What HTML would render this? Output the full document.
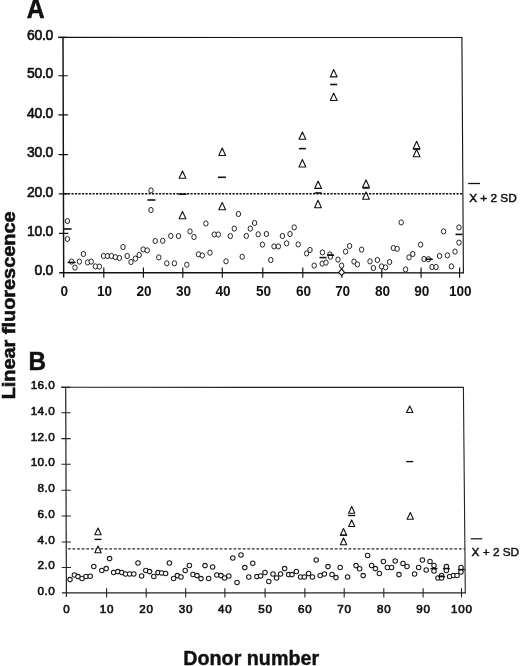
<!DOCTYPE html>
<html><head><meta charset="utf-8"><title>Figure</title>
<style>
html,body{margin:0;padding:0;background:#fff;}
body{width:520px;height:666px;overflow:hidden;}
svg{display:block;}
text{font-family:"Liberation Sans",Arial,Helvetica,sans-serif;fill:#111;}
.ya text{font-size:15px;text-anchor:end;stroke:#111;stroke-width:0.65px;letter-spacing:-0.3px;}
.xa text{font-size:14.8px;text-anchor:middle;font-weight:bold;letter-spacing:-0.2px;}
.yb text{font-size:11.8px;text-anchor:end;letter-spacing:0.4px;stroke:#111;stroke-width:0.6px;}
.xb text{font-size:11.6px;text-anchor:middle;letter-spacing:0.8px;stroke:#111;stroke-width:0.65px;}
.ax{stroke:#111;stroke-width:1.4;fill:none;}
.thin{stroke:#222;stroke-width:1.1;fill:none;}
.c{fill:#fff;stroke:#1a1a1a;stroke-width:0.95;}
.t{fill:#fff;stroke:#111;stroke-width:1.1;stroke-linejoin:round;}
.d{stroke:#111;stroke-width:1.6;}
.dot{stroke:#111;stroke-width:1.4;stroke-dasharray:2.2 1.3;fill:none;}
.big{font-weight:bold;}
</style></head><body>
<svg width="520" height="666" viewBox="0 0 520 666">
<rect width="520" height="666" fill="#fff"/>

<text class="big" transform="translate(26.7 17.9) scale(1 1.09)" font-size="24.8" style="stroke:#111;stroke-width:.5px">A</text>
<text class="big" transform="translate(28.5 369.5) scale(1 1.05)" font-size="24.3" style="stroke:#111;stroke-width:.5px">B</text>
<text class="big" font-size="19" text-anchor="middle" transform="translate(15.3 305.4) rotate(-90) scale(1.047 1)" style="stroke:#111;stroke-width:.6px">Linear fluorescence</text>
<text class="big" font-size="19.3" text-anchor="middle" transform="translate(251.2 664.5) scale(1.022 1)" style="stroke:#111;stroke-width:.4px">Donor number</text>
<g class="ax"><path d="M58.4 37.4L461.9 37.5L463.4 272.9" style="stroke-width:1.1"/><path d="M58.4 37.4H67.3" style="stroke-width:1.4"/><path d="M464 272.85L59.2 272.8M63.0 37.4L63.7 277.6" style="stroke-width:1.45"/>
<path d="M58.9 233.3h9.4M58.8 193.8h9.4M58.6 154.6h9.4M58.5 114.9h9.4M58.4 75.7h9.4M103.8 267.5v10.2M143.4 267.5v10.2M182.8 267.5v10.2M222.3 267.5v10.2M262.8 267.5v10.2M302.8 267.5v10.2M342.0 267.5v10.2M381.8 267.5v10.2M421.1 267.5v10.2M459.6 267.5v10.2" style="stroke-width:1.15"/></g>
<g class="ya">
<text transform="translate(53.0 275.3) scale(0.93 1)">0.0</text>
<text transform="translate(53.0 236.0) scale(0.93 1)">10.0</text>
<text transform="translate(53.0 196.5) scale(0.93 1)">20.0</text>
<text transform="translate(53.0 157.3) scale(0.93 1)">30.0</text>
<text transform="translate(53.0 117.6) scale(0.93 1)">40.0</text>
<text transform="translate(53.0 78.4) scale(0.93 1)">50.0</text>
<text transform="translate(53.0 40.0) scale(0.93 1)">60.0</text>
</g><g class="xa">
<text transform="translate(64.3 296.3) scale(0.92 1)">0</text>
<text transform="translate(104.4 296.3) scale(0.92 1)">10</text>
<text transform="translate(144.0 296.3) scale(0.92 1)">20</text>
<text transform="translate(183.4 296.3) scale(0.92 1)">30</text>
<text transform="translate(222.9 296.3) scale(0.92 1)">40</text>
<text transform="translate(263.4 296.3) scale(0.92 1)">50</text>
<text transform="translate(303.4 296.3) scale(0.92 1)">60</text>
<text transform="translate(342.6 296.3) scale(0.92 1)">70</text>
<text transform="translate(382.4 296.3) scale(0.92 1)">80</text>
<text transform="translate(421.7 296.3) scale(0.92 1)">90</text>
<text transform="translate(460.2 296.3) scale(0.92 1)">100</text>
</g>
<path class="dot" d="M64.5 193.8H462.8"/>
<g class="thin"><path d="M61.3 387.3L463.4 387.4L465.3 593"/><path d="M61.3 387.3H70.2" style="stroke-width:1.3"/><path d="M65.7 387.3L66.4 597" style="stroke-width:1.2"/><path d="M466 592.85L61.9 592.9" style="stroke-width:1.35"/>
<path d="M61.8 567.5h9.2M61.7 542.0h9.2M61.6 516.0h9.2M61.5 490.3h9.2M61.5 464.3h9.2M61.4 438.6h9.2M61.3 412.8h9.2M106.6 588.2v9.2M146.2 588.2v9.2M185.7 588.2v9.2M224.9 588.2v9.2M265.1 588.2v9.2M304.9 588.2v9.2M344.2 588.2v9.2M383.8 588.2v9.2M423.1 588.2v9.2M461.5 588.2v9.2"/></g>
<g class="yb">
<text x="55.2" y="594.8">0.0</text>
<text x="55.2" y="569.4">2.0</text>
<text x="55.2" y="543.9">4.0</text>
<text x="55.2" y="517.9">6.0</text>
<text x="55.2" y="492.2">8.0</text>
<text x="55.2" y="466.2">10.0</text>
<text x="55.2" y="440.5">12.0</text>
<text x="55.2" y="414.7">14.0</text>
<text x="55.2" y="388.8">16.0</text>
</g><g class="xb">
<text x="66.8" y="613.2">0</text>
<text x="107.0" y="613.2">10</text>
<text x="146.6" y="613.2">20</text>
<text x="186.1" y="613.2">30</text>
<text x="225.3" y="613.2">40</text>
<text x="265.5" y="613.2">50</text>
<text x="305.3" y="613.2">60</text>
<text x="344.6" y="613.2">70</text>
<text x="384.2" y="613.2">80</text>
<text x="423.5" y="613.2">90</text>
<text x="461.9" y="613.2">100</text>
</g>
<path class="dot" d="M67.9 548.9H465" style="stroke-width:1.3;stroke:#2a2a2a;stroke-dasharray:2.8 1.8"/>
<path class="d" d="M468.2 183.5H480" style="stroke-width:1.3"/>
<text x="469.2" y="201.9" font-size="11.8" style="stroke:#111;stroke-width:0.5px">X + 2 SD</text>
<path class="d" d="M470.8 538.8H482.3" style="stroke-width:1.2"/>
<text x="471.6" y="556.3" font-size="11.8" style="stroke:#111;stroke-width:0.45px">X + 2 SD</text>
<g>
<ellipse class="c" cx="67.4" cy="221.0" rx="2.2" ry="2.6"/>
<ellipse class="c" cx="67.4" cy="239.0" rx="2.2" ry="2.6"/>
<ellipse class="c" cx="71.6" cy="261.6" rx="2.2" ry="2.6"/>
<ellipse class="c" cx="75.0" cy="267.6" rx="2.2" ry="2.6"/>
<ellipse class="c" cx="79.4" cy="261.6" rx="2.2" ry="2.6"/>
<ellipse class="c" cx="83.4" cy="254.0" rx="2.2" ry="2.6"/>
<ellipse class="c" cx="87.6" cy="262.4" rx="2.2" ry="2.6"/>
<ellipse class="c" cx="91.2" cy="261.6" rx="2.2" ry="2.6"/>
<ellipse class="c" cx="95.4" cy="266.4" rx="2.2" ry="2.6"/>
<ellipse class="c" cx="99.4" cy="266.6" rx="2.2" ry="2.6"/>
<ellipse class="c" cx="103.6" cy="256.0" rx="2.2" ry="2.6"/>
<ellipse class="c" cx="107.4" cy="256.0" rx="2.2" ry="2.6"/>
<ellipse class="c" cx="111.4" cy="256.0" rx="2.2" ry="2.6"/>
<ellipse class="c" cx="115.4" cy="257.2" rx="2.2" ry="2.6"/>
<ellipse class="c" cx="119.4" cy="258.0" rx="2.2" ry="2.6"/>
<ellipse class="c" cx="123.0" cy="247.0" rx="2.2" ry="2.6"/>
<ellipse class="c" cx="127.2" cy="256.0" rx="2.2" ry="2.6"/>
<ellipse class="c" cx="131.0" cy="262.0" rx="2.2" ry="2.6"/>
<ellipse class="c" cx="135.4" cy="258.6" rx="2.2" ry="2.6"/>
<ellipse class="c" cx="139.2" cy="255.0" rx="2.2" ry="2.6"/>
<ellipse class="c" cx="143.2" cy="249.4" rx="2.2" ry="2.6"/>
<ellipse class="c" cx="147.2" cy="250.4" rx="2.2" ry="2.6"/>
<ellipse class="c" cx="151.0" cy="190.4" rx="2.2" ry="2.6"/>
<ellipse class="c" cx="151.0" cy="210.0" rx="2.2" ry="2.6"/>
<ellipse class="c" cx="155.2" cy="241.0" rx="2.2" ry="2.6"/>
<ellipse class="c" cx="158.8" cy="257.4" rx="2.2" ry="2.6"/>
<ellipse class="c" cx="162.7" cy="240.8" rx="2.2" ry="2.6"/>
<ellipse class="c" cx="166.8" cy="263.3" rx="2.2" ry="2.6"/>
<ellipse class="c" cx="170.8" cy="235.9" rx="2.2" ry="2.6"/>
<ellipse class="c" cx="174.4" cy="263.3" rx="2.2" ry="2.6"/>
<ellipse class="c" cx="178.5" cy="236.1" rx="2.2" ry="2.6"/>
<ellipse class="c" cx="186.8" cy="264.7" rx="2.2" ry="2.6"/>
<ellipse class="c" cx="190.0" cy="231.4" rx="2.2" ry="2.6"/>
<ellipse class="c" cx="194.0" cy="237.0" rx="2.2" ry="2.6"/>
<ellipse class="c" cx="198.5" cy="254.3" rx="2.2" ry="2.6"/>
<ellipse class="c" cx="202.3" cy="255.5" rx="2.2" ry="2.6"/>
<ellipse class="c" cx="205.9" cy="223.5" rx="2.2" ry="2.6"/>
<ellipse class="c" cx="210.0" cy="252.7" rx="2.2" ry="2.6"/>
<ellipse class="c" cx="214.3" cy="234.5" rx="2.2" ry="2.6"/>
<ellipse class="c" cx="218.3" cy="234.5" rx="2.2" ry="2.6"/>
<ellipse class="c" cx="226.0" cy="261.3" rx="2.2" ry="2.6"/>
<ellipse class="c" cx="230.3" cy="236.1" rx="2.2" ry="2.6"/>
<ellipse class="c" cx="234.3" cy="228.6" rx="2.2" ry="2.6"/>
<ellipse class="c" cx="238.4" cy="214.0" rx="2.2" ry="2.6"/>
<ellipse class="c" cx="242.2" cy="256.8" rx="2.2" ry="2.6"/>
<ellipse class="c" cx="246.3" cy="235.9" rx="2.2" ry="2.6"/>
<ellipse class="c" cx="250.3" cy="228.6" rx="2.2" ry="2.6"/>
<ellipse class="c" cx="254.6" cy="223.0" rx="2.2" ry="2.6"/>
<ellipse class="c" cx="258.2" cy="234.3" rx="2.2" ry="2.6"/>
<ellipse class="c" cx="262.4" cy="244.6" rx="2.2" ry="2.6"/>
<ellipse class="c" cx="266.4" cy="234.0" rx="2.2" ry="2.6"/>
<ellipse class="c" cx="270.8" cy="260.0" rx="2.2" ry="2.6"/>
<ellipse class="c" cx="274.0" cy="246.4" rx="2.2" ry="2.6"/>
<ellipse class="c" cx="278.4" cy="246.4" rx="2.2" ry="2.6"/>
<ellipse class="c" cx="282.4" cy="236.0" rx="2.2" ry="2.6"/>
<ellipse class="c" cx="286.6" cy="243.4" rx="2.2" ry="2.6"/>
<ellipse class="c" cx="290.0" cy="234.0" rx="2.2" ry="2.6"/>
<ellipse class="c" cx="294.2" cy="227.4" rx="2.2" ry="2.6"/>
<ellipse class="c" cx="298.2" cy="244.4" rx="2.2" ry="2.6"/>
<ellipse class="c" cx="306.6" cy="253.4" rx="2.2" ry="2.6"/>
<ellipse class="c" cx="310.0" cy="250.0" rx="2.2" ry="2.6"/>
<ellipse class="c" cx="314.2" cy="265.6" rx="2.2" ry="2.6"/>
<ellipse class="c" cx="322.4" cy="252.4" rx="2.2" ry="2.6"/>
<ellipse class="c" cx="322.2" cy="263.6" rx="2.2" ry="2.6"/>
<ellipse class="c" cx="326.0" cy="262.6" rx="2.2" ry="2.6"/>
<ellipse class="c" cx="330.0" cy="254.4" rx="2.2" ry="2.6"/>
<ellipse class="c" cx="330.4" cy="256.8" rx="2.2" ry="2.6"/>
<ellipse class="c" cx="338.0" cy="259.6" rx="2.2" ry="2.6"/>
<ellipse class="c" cx="341.6" cy="265.6" rx="2.2" ry="2.6"/>
<ellipse class="c" cx="345.6" cy="251.6" rx="2.2" ry="2.6"/>
<ellipse class="c" cx="349.6" cy="246.0" rx="2.2" ry="2.6"/>
<ellipse class="c" cx="354.0" cy="261.6" rx="2.2" ry="2.6"/>
<ellipse class="c" cx="357.4" cy="264.4" rx="2.2" ry="2.6"/>
<ellipse class="c" cx="361.6" cy="249.6" rx="2.2" ry="2.6"/>
<ellipse class="c" cx="370.0" cy="261.4" rx="2.2" ry="2.6"/>
<ellipse class="c" cx="373.4" cy="268.0" rx="2.2" ry="2.6"/>
<ellipse class="c" cx="377.4" cy="260.0" rx="2.2" ry="2.6"/>
<ellipse class="c" cx="381.6" cy="266.4" rx="2.2" ry="2.6"/>
<ellipse class="c" cx="385.6" cy="267.4" rx="2.2" ry="2.6"/>
<ellipse class="c" cx="389.6" cy="262.0" rx="2.2" ry="2.6"/>
<ellipse class="c" cx="393.4" cy="248.0" rx="2.2" ry="2.6"/>
<ellipse class="c" cx="397.2" cy="248.8" rx="2.2" ry="2.6"/>
<ellipse class="c" cx="401.2" cy="222.4" rx="2.2" ry="2.6"/>
<ellipse class="c" cx="405.6" cy="269.4" rx="2.2" ry="2.6"/>
<ellipse class="c" cx="409.0" cy="257.4" rx="2.2" ry="2.6"/>
<ellipse class="c" cx="412.8" cy="254.0" rx="2.2" ry="2.6"/>
<ellipse class="c" cx="420.6" cy="244.6" rx="2.2" ry="2.6"/>
<ellipse class="c" cx="424.0" cy="259.0" rx="2.2" ry="2.6"/>
<ellipse class="c" cx="428.4" cy="259.2" rx="2.2" ry="2.6"/>
<ellipse class="c" cx="432.0" cy="267.0" rx="2.2" ry="2.6"/>
<ellipse class="c" cx="436.0" cy="267.0" rx="2.2" ry="2.6"/>
<ellipse class="c" cx="439.6" cy="256.0" rx="2.2" ry="2.6"/>
<ellipse class="c" cx="443.6" cy="231.4" rx="2.2" ry="2.6"/>
<ellipse class="c" cx="447.4" cy="255.4" rx="2.2" ry="2.6"/>
<ellipse class="c" cx="451.4" cy="266.4" rx="2.2" ry="2.6"/>
<ellipse class="c" cx="455.0" cy="251.6" rx="2.2" ry="2.6"/>
<ellipse class="c" cx="459.0" cy="227.4" rx="2.2" ry="2.6"/>
<ellipse class="c" cx="459.0" cy="242.6" rx="2.2" ry="2.6"/>
<path class="t" d="M182.5 170.9L185.9 178.3H179.1Z"/>
<path class="t" d="M182.5 211.4L185.9 218.8H179.1Z"/>
<path class="t" d="M222.2 148.1L225.6 155.5H218.8Z"/>
<path class="t" d="M222.2 202.4L225.6 209.8H218.8Z"/>
<path class="t" d="M302.4 131.9L305.8 139.3H299.0Z"/>
<path class="t" d="M302.4 159.6L305.8 167.0H299.0Z"/>
<path class="t" d="M333.7 69.5L337.1 76.9H330.3Z"/>
<path class="t" d="M333.7 93.1L337.1 100.5H330.3Z"/>
<path class="t" d="M318.1 181.0L321.5 188.4H314.7Z"/>
<path class="t" d="M318.0 200.3L321.4 207.7H314.6Z"/>
<path class="t" d="M366.0 179.9L369.4 187.3H362.6Z"/>
<path class="t" d="M366.0 191.9L369.4 199.3H362.6Z"/>
<path class="t" d="M416.6 141.3L420.0 148.7H413.2Z"/>
<path class="t" d="M416.6 149.3L420.0 156.7H413.2Z"/>
<path class="t" d="M341.6 268.8l2.9 3.6l-2.9 3.3l-2.9 -3.3Z"/>
<path class="d" d="M63.6 229.0h8"/>
<path class="d" d="M67.6 262.4h8"/>
<path class="d" d="M147.4 200.0h8"/>
<path class="d" d="M178.5 194.2h8"/>
<path class="d" d="M217.9 177.3h8"/>
<path class="d" d="M319.5 257.6h7.0"/>
<path class="d" d="M327.1 255.2h7.0"/>
<path class="d" d="M298.9 148.6h7.0"/>
<path class="d" d="M330.2 84.5h7.0"/>
<path class="d" d="M314.6 193.0h7.0"/>
<path class="d" d="M425.7 259.2h7.0"/>
<path class="d" d="M455.5 234.4h7.0"/>
<path class="d" d="M362.5 188.0h7.0"/>
<path class="d" d="M413.1 149.0h7.0"/>
</g><g>
<circle class="c" cx="70.0" cy="579.6" r="2.25" style="stroke-width:1.05"/>
<circle class="c" cx="74.4" cy="575.0" r="2.25" style="stroke-width:1.05"/>
<circle class="c" cx="78.0" cy="576.6" r="2.25" style="stroke-width:1.05"/>
<circle class="c" cx="82.0" cy="578.4" r="2.25" style="stroke-width:1.05"/>
<circle class="c" cx="86.0" cy="576.4" r="2.25" style="stroke-width:1.05"/>
<circle class="c" cx="90.2" cy="576.2" r="2.25" style="stroke-width:1.05"/>
<circle class="c" cx="93.8" cy="566.4" r="2.25" style="stroke-width:1.05"/>
<circle class="c" cx="101.8" cy="570.4" r="2.25" style="stroke-width:1.05"/>
<circle class="c" cx="106.2" cy="568.6" r="2.25" style="stroke-width:1.05"/>
<circle class="c" cx="109.6" cy="558.6" r="2.25" style="stroke-width:1.05"/>
<circle class="c" cx="113.6" cy="572.4" r="2.25" style="stroke-width:1.05"/>
<circle class="c" cx="117.8" cy="571.6" r="2.25" style="stroke-width:1.05"/>
<circle class="c" cx="121.8" cy="572.4" r="2.25" style="stroke-width:1.05"/>
<circle class="c" cx="125.6" cy="574.0" r="2.25" style="stroke-width:1.05"/>
<circle class="c" cx="129.6" cy="574.0" r="2.25" style="stroke-width:1.05"/>
<circle class="c" cx="133.8" cy="574.0" r="2.25" style="stroke-width:1.05"/>
<circle class="c" cx="138.0" cy="563.0" r="2.25" style="stroke-width:1.05"/>
<circle class="c" cx="141.6" cy="576.0" r="2.25" style="stroke-width:1.05"/>
<circle class="c" cx="145.8" cy="570.4" r="2.25" style="stroke-width:1.05"/>
<circle class="c" cx="149.6" cy="571.6" r="2.25" style="stroke-width:1.05"/>
<circle class="c" cx="153.8" cy="576.4" r="2.25" style="stroke-width:1.05"/>
<circle class="c" cx="158.0" cy="572.6" r="2.25" style="stroke-width:1.05"/>
<circle class="c" cx="161.6" cy="573.0" r="2.25" style="stroke-width:1.05"/>
<circle class="c" cx="165.6" cy="573.4" r="2.25" style="stroke-width:1.05"/>
<circle class="c" cx="169.4" cy="563.0" r="2.25" style="stroke-width:1.05"/>
<circle class="c" cx="173.6" cy="578.4" r="2.25" style="stroke-width:1.05"/>
<circle class="c" cx="177.4" cy="575.6" r="2.25" style="stroke-width:1.05"/>
<circle class="c" cx="181.0" cy="577.0" r="2.25" style="stroke-width:1.05"/>
<circle class="c" cx="185.2" cy="570.4" r="2.25" style="stroke-width:1.05"/>
<circle class="c" cx="189.4" cy="565.4" r="2.25" style="stroke-width:1.05"/>
<circle class="c" cx="193.0" cy="574.4" r="2.25" style="stroke-width:1.05"/>
<circle class="c" cx="197.0" cy="575.6" r="2.25" style="stroke-width:1.05"/>
<circle class="c" cx="201.0" cy="578.6" r="2.25" style="stroke-width:1.05"/>
<circle class="c" cx="205.0" cy="565.6" r="2.25" style="stroke-width:1.05"/>
<circle class="c" cx="208.6" cy="578.4" r="2.25" style="stroke-width:1.05"/>
<circle class="c" cx="212.6" cy="567.0" r="2.25" style="stroke-width:1.05"/>
<circle class="c" cx="216.8" cy="575.0" r="2.25" style="stroke-width:1.05"/>
<circle class="c" cx="221.0" cy="575.6" r="2.25" style="stroke-width:1.05"/>
<circle class="c" cx="224.6" cy="578.0" r="2.25" style="stroke-width:1.05"/>
<circle class="c" cx="228.8" cy="576.0" r="2.25" style="stroke-width:1.05"/>
<circle class="c" cx="232.8" cy="558.0" r="2.25" style="stroke-width:1.05"/>
<circle class="c" cx="237.0" cy="582.4" r="2.25" style="stroke-width:1.05"/>
<circle class="c" cx="241.0" cy="555.0" r="2.25" style="stroke-width:1.05"/>
<circle class="c" cx="244.8" cy="567.6" r="2.25" style="stroke-width:1.05"/>
<circle class="c" cx="248.8" cy="577.0" r="2.25" style="stroke-width:1.05"/>
<circle class="c" cx="252.8" cy="563.2" r="2.25" style="stroke-width:1.05"/>
<circle class="c" cx="256.8" cy="576.6" r="2.25" style="stroke-width:1.05"/>
<circle class="c" cx="260.6" cy="576.0" r="2.25" style="stroke-width:1.05"/>
<circle class="c" cx="265.0" cy="572.4" r="2.25" style="stroke-width:1.05"/>
<circle class="c" cx="268.8" cy="581.4" r="2.25" style="stroke-width:1.05"/>
<circle class="c" cx="273.0" cy="574.0" r="2.25" style="stroke-width:1.05"/>
<circle class="c" cx="276.6" cy="578.0" r="2.25" style="stroke-width:1.05"/>
<circle class="c" cx="280.6" cy="574.0" r="2.25" style="stroke-width:1.05"/>
<circle class="c" cx="284.6" cy="568.6" r="2.25" style="stroke-width:1.05"/>
<circle class="c" cx="288.6" cy="574.6" r="2.25" style="stroke-width:1.05"/>
<circle class="c" cx="292.0" cy="574.6" r="2.25" style="stroke-width:1.05"/>
<circle class="c" cx="296.4" cy="571.4" r="2.25" style="stroke-width:1.05"/>
<circle class="c" cx="300.6" cy="577.0" r="2.25" style="stroke-width:1.05"/>
<circle class="c" cx="304.4" cy="577.0" r="2.25" style="stroke-width:1.05"/>
<circle class="c" cx="308.6" cy="573.4" r="2.25" style="stroke-width:1.05"/>
<circle class="c" cx="312.4" cy="577.0" r="2.25" style="stroke-width:1.05"/>
<circle class="c" cx="316.2" cy="560.0" r="2.25" style="stroke-width:1.05"/>
<circle class="c" cx="320.2" cy="575.4" r="2.25" style="stroke-width:1.05"/>
<circle class="c" cx="324.4" cy="574.0" r="2.25" style="stroke-width:1.05"/>
<circle class="c" cx="328.0" cy="566.6" r="2.25" style="stroke-width:1.05"/>
<circle class="c" cx="332.0" cy="574.4" r="2.25" style="stroke-width:1.05"/>
<circle class="c" cx="336.0" cy="577.6" r="2.25" style="stroke-width:1.05"/>
<circle class="c" cx="340.2" cy="567.4" r="2.25" style="stroke-width:1.05"/>
<circle class="c" cx="347.6" cy="577.0" r="2.25" style="stroke-width:1.05"/>
<circle class="c" cx="356.0" cy="565.6" r="2.25" style="stroke-width:1.05"/>
<circle class="c" cx="359.6" cy="568.8" r="2.25" style="stroke-width:1.05"/>
<circle class="c" cx="363.2" cy="575.6" r="2.25" style="stroke-width:1.05"/>
<circle class="c" cx="367.6" cy="555.4" r="2.25" style="stroke-width:1.05"/>
<circle class="c" cx="371.6" cy="565.4" r="2.25" style="stroke-width:1.05"/>
<circle class="c" cx="375.4" cy="568.6" r="2.25" style="stroke-width:1.05"/>
<circle class="c" cx="379.4" cy="573.4" r="2.25" style="stroke-width:1.05"/>
<circle class="c" cx="383.4" cy="561.4" r="2.25" style="stroke-width:1.05"/>
<circle class="c" cx="387.4" cy="567.4" r="2.25" style="stroke-width:1.05"/>
<circle class="c" cx="391.6" cy="567.4" r="2.25" style="stroke-width:1.05"/>
<circle class="c" cx="395.2" cy="561.0" r="2.25" style="stroke-width:1.05"/>
<circle class="c" cx="399.0" cy="574.6" r="2.25" style="stroke-width:1.05"/>
<circle class="c" cx="403.0" cy="563.4" r="2.25" style="stroke-width:1.05"/>
<circle class="c" cx="407.0" cy="566.4" r="2.25" style="stroke-width:1.05"/>
<circle class="c" cx="414.6" cy="574.0" r="2.25" style="stroke-width:1.05"/>
<circle class="c" cx="418.6" cy="567.4" r="2.25" style="stroke-width:1.05"/>
<circle class="c" cx="422.4" cy="560.0" r="2.25" style="stroke-width:1.05"/>
<circle class="c" cx="426.2" cy="570.0" r="2.25" style="stroke-width:1.05"/>
<circle class="c" cx="430.0" cy="561.4" r="2.25" style="stroke-width:1.05"/>
<circle class="c" cx="434.0" cy="565.4" r="2.25" style="stroke-width:1.05"/>
<circle class="c" cx="434.0" cy="571.0" r="2.25" style="stroke-width:1.05"/>
<circle class="c" cx="438.0" cy="578.0" r="2.25" style="stroke-width:1.05"/>
<circle class="c" cx="441.6" cy="575.4" r="2.25" style="stroke-width:1.05"/>
<circle class="c" cx="441.6" cy="578.0" r="2.25" style="stroke-width:1.05"/>
<circle class="c" cx="446.4" cy="566.6" r="2.25" style="stroke-width:1.05"/>
<circle class="c" cx="446.4" cy="570.4" r="2.25" style="stroke-width:1.05"/>
<circle class="c" cx="449.6" cy="576.4" r="2.25" style="stroke-width:1.05"/>
<circle class="c" cx="453.4" cy="575.4" r="2.25" style="stroke-width:1.05"/>
<circle class="c" cx="457.0" cy="575.4" r="2.25" style="stroke-width:1.05"/>
<circle class="c" cx="461.0" cy="567.4" r="2.25" style="stroke-width:1.05"/>
<circle class="c" cx="461.0" cy="572.0" r="2.25" style="stroke-width:1.05"/>
<path class="t" d="M98.0 528.1L101.2 534.7H94.8Z"/>
<path class="t" d="M98.0 546.1L101.2 552.7H94.8Z"/>
<path class="t" d="M409.7 405.9L412.9 412.5H406.6Z"/>
<path class="t" d="M410.3 512.6L413.4 519.2H407.1Z"/>
<path class="t" d="M343.5 528.6L346.7 535.2H340.4Z"/>
<path class="t" d="M343.5 538.1L346.7 544.7H340.4Z"/>
<path class="t" d="M351.7 506.6L354.8 513.2H348.6Z"/>
<path class="t" d="M351.7 519.9L354.8 526.5H348.6Z"/>
<path class="d" d="M94.5 539.4h7.0" style="stroke-width:1.4"/>
<path class="d" d="M430.5 568.6h7.0" style="stroke-width:1.4"/>
<path class="d" d="M438.1 576.6h7.0" style="stroke-width:1.4"/>
<path class="d" d="M442.9 568.6h7.0" style="stroke-width:1.4"/>
<path class="d" d="M457.9 569.6h7.0" style="stroke-width:1.4"/>
<path class="d" d="M406.2 461.6h7.0" style="stroke-width:1.4"/>
<path class="d" d="M340.0 535.1h7.0" style="stroke-width:1.4"/>
<path class="d" d="M348.1 515.5h7.2" style="stroke-width:1.4"/>
</g>
</svg></body></html>
